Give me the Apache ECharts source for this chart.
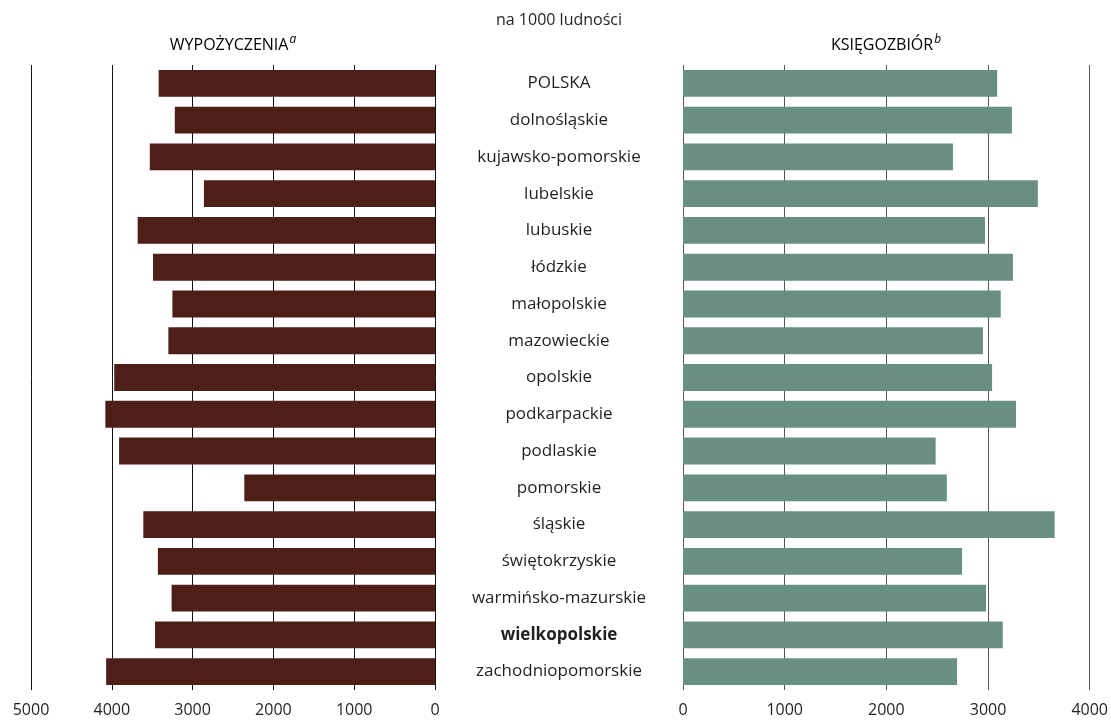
<!DOCTYPE html>
<html>
<head>
<meta charset="utf-8">
<script src="https://cdn.jsdelivr.net/npm/echarts@6/dist/echarts.min.js"></script>
<style>
  html, body { margin: 0; padding: 0; background: #fff; }
  #chart { width: 1111px; height: 720px; }
</style>
</head>
<body>
<div id="chart"></div>
<script>
const regions = [
    'POLSKA', 'dolnośląskie', 'kujawsko-pomorskie', 'lubelskie', 'lubuskie', 'łódzkie',
    'małopolskie', 'mazowieckie', 'opolskie', 'podkarpackie', 'podlaskie', 'pomorskie',
    'śląskie', 'świętokrzyskie', 'warmińsko-mazurskie', 'wielkopolskie', 'zachodniopomorskie',
];
const loans = [3420, 3220, 3530, 2860, 3680, 3490, 3250, 3300, 3970, 4080, 3910, 2360, 3610, 3430, 3260, 3465, 4070];
const books = [3090, 3235, 2655, 3490, 2970, 3245, 3125, 2950, 3040, 3275, 2485, 2595, 3655, 2745, 2980, 3145, 2695];
const leftTicks = [0, 1000, 2000, 3000, 4000, 5000];
const rightTicks = [0, 1000, 2000, 3000, 4000];

const font = '"Open Sans", sans-serif';
const textColor = '#231f20';

const chart = echarts.init(document.getElementById('chart'), null, { renderer: 'canvas' });

const headRich = {
    m: { fontSize: 16, color: textColor, fontFamily: font },
    s: { fontSize: 12, fontStyle: 'italic', color: textColor, fontFamily: font, verticalAlign: 'top', padding: [0, 0, 10, 1] },
};

const option = {
    backgroundColor: '#fff',
    animation: false,
    textStyle: { fontFamily: font },
    graphic: [
        {
            type: 'text',
            style: { text: 'na 1000 ludności', x: 559, y: 20, align: 'center', verticalAlign: 'middle',
                     fontSize: 16, fill: textColor, fontFamily: font },
        },
        {
            type: 'text',
            style: { text: '{m|WYPOŻYCZENIA}{s|a}', x: 233, y: 45, align: 'center', verticalAlign: 'middle', rich: headRich },
        },
        {
            type: 'text',
            style: { text: '{m|KSIĘGOZBIÓR}{s|b}', x: 886, y: 45, align: 'center', verticalAlign: 'middle', rich: headRich },
        },
    ],
    grid: [
        { left: 31, width: 404, top: 65, height: 625 },
        { left: 683, width: 407, top: 65, height: 625 },
    ],
    xAxis: [
        {
            gridIndex: 0, type: 'value', inverse: true,
            min: leftTicks[0], max: leftTicks[leftTicks.length - 1], interval: 1000,
            axisLine: { show: false }, axisTick: { show: false },
            splitLine: { show: true, lineStyle: { color: '#111', width: 1 } },
            axisLabel: { margin: 12, fontSize: 16, color: textColor, fontFamily: font, formatter: (v) => String(v) },
        },
        {
            gridIndex: 1, type: 'value',
            min: rightTicks[0], max: rightTicks[rightTicks.length - 1], interval: 1000,
            axisLine: { show: false }, axisTick: { show: false },
            splitLine: { show: true, lineStyle: { color: '#555', width: 1 } },
            axisLabel: { margin: 12, fontSize: 16, color: textColor, fontFamily: font, formatter: (v) => String(v) },
        },
    ],
    yAxis: [
        {
            gridIndex: 0, type: 'category', data: regions, inverse: true,
            axisLine: { show: false }, axisTick: { show: false }, axisLabel: { show: false },
        },
        {
            gridIndex: 1, type: 'category', data: regions, inverse: true, position: 'left',
            axisLine: { show: false }, axisTick: { show: false },
            axisLabel: {
                margin: 124, align: 'center', fontSize: 17, color: textColor, fontFamily: font,
                formatter: (v) => (v === 'wielkopolskie' ? '{b|' + v + '}' : v),
                rich: { b: { fontWeight: 'bold', fontSize: 17, color: textColor, fontFamily: font } },
            },
        },
    ],
    series: [
        {
            name: 'Wypożyczenia', type: 'bar', xAxisIndex: 0, yAxisIndex: 0,
            data: loans, barCategoryGap: '27%',
            itemStyle: { color: '#4e1f18' },
        },
        {
            name: 'Księgozbiór', type: 'bar', xAxisIndex: 1, yAxisIndex: 1,
            data: books, barCategoryGap: '27%',
            itemStyle: { color: '#698f84' },
        },
    ],
};

chart.setOption(option);
</script>
</body>
</html>
